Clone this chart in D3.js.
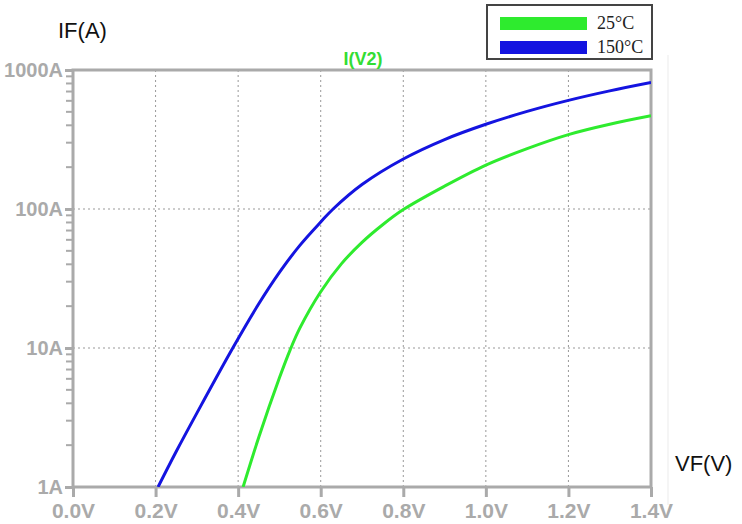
<!DOCTYPE html>
<html><head><meta charset="utf-8">
<script src="https://cdn.jsdelivr.net/npm/d3@7"></script>
<style>body{margin:0;background:#fff}svg{display:block}</style>
</head><body>
<svg id="c" width="742" height="524"></svg>
<script>
// Data (VF in volts, IF in amps)
const xTicks = [0, 0.2, 0.4, 0.6, 0.8, 1.0, 1.2, 1.4];
const xTickLabels = ["0.0V","0.2V","0.4V","0.6V","0.8V","1.0V","1.2V","1.4V"];
const yTicks = [1, 10, 100, 1000];
const yTickLabels = ["1A","10A","100A","1000A"];
const seriesNames = ["25°C", "150°C"];
const v25 =  [0.412, 0.45, 0.5, 0.526, 0.55, 0.6, 0.65, 0.7, 0.75, 0.8, 0.9, 1.0, 1.1, 1.2, 1.3, 1.4];
const i25 =  [1, 2.28, 6.1, 9.7, 14.0, 25.4, 40.3, 57.5, 77, 99, 146, 207, 272, 343, 407, 468];
const v150 = [0.206, 0.25, 0.3, 0.387, 0.45, 0.5, 0.55, 0.6, 0.63, 0.7, 0.8, 0.9, 1.0, 1.1, 1.2, 1.3, 1.4];
const i150 = [1, 1.8, 3.4, 10, 20.8, 35, 55, 80.6, 100, 150, 229, 316, 407, 504, 605, 708, 813];

const svg = d3.select("#c");
const L = 73, R = 651, T = 70, B = 487;
const x = d3.scaleLinear().domain([0, 1.4]).range([L, R]);
const y = d3.scaleLog().domain([1, 1000]).range([B, T]);
const axisCol = "#aaaaaa";

// faint artifact line
svg.append("line").attr("x1",668).attr("x2",668).attr("y1",55).attr("y2",505)
  .attr("stroke","#f2f2f2").attr("stroke-width",1.5);

// grid
const g = svg.append("g");
g.selectAll(".vg").data(xTicks.slice(1, -1)).join("line")
  .attr("x1", d => x(d)).attr("x2", d => x(d)).attr("y1", T).attr("y2", B)
  .attr("stroke", "#999").attr("stroke-width", 1).attr("stroke-dasharray", "2,3");
g.selectAll(".hg").data(yTicks.slice(1, -1)).join("line")
  .attr("x1", L).attr("x2", R).attr("y1", d => y(d)).attr("y2", d => y(d))
  .attr("stroke", "#999").attr("stroke-width", 1).attr("stroke-dasharray", "2,3");

// frame
svg.append("rect").attr("x", L).attr("y", T).attr("width", R - L).attr("height", B - T)
  .attr("fill", "none").attr("stroke", axisCol).attr("stroke-width", 3);

// bottom axis
const xa = svg.append("g").attr("transform", `translate(0,${B})`)
  .call(d3.axisBottom(x).tickValues(xTicks).tickSize(10).tickPadding(6)
    .tickFormat((d, i) => xTickLabels[i]));
xa.select(".domain").remove();
xa.selectAll(".tick line").attr("stroke", axisCol).attr("stroke-width", 3);
xa.selectAll(".tick text").attr("fill", axisCol)
  .style("font-family", "'Liberation Sans', Arial, sans-serif").style("font-weight", "bold")
  .style("font-size", "21px").attr("dy", "0.72em");

// left axis major
const ya = svg.append("g").attr("transform", `translate(${L},0)`)
  .call(d3.axisLeft(y).tickValues(yTicks).tickSize(8).tickPadding(2)
    .tickFormat((d, i) => yTickLabels[i]));
ya.select(".domain").remove();
ya.selectAll(".tick line").attr("stroke", axisCol).attr("stroke-width", 3);
ya.selectAll(".tick text").attr("fill", axisCol)
  .style("font-family", "'Liberation Sans', Arial, sans-serif").style("font-weight", "bold")
  .style("font-size", "20px");

// left axis minor ticks
const minor = [];
[1, 10, 100].forEach(dec => { for (let k = 2; k <= 9; k++) minor.push(dec * k); });
svg.append("g").selectAll("line").data(minor).join("line")
  .attr("x1", L - 7).attr("x2", L).attr("y1", d => y(d)).attr("y2", d => y(d))
  .attr("stroke", axisCol).attr("stroke-width", 2);

// curves
svg.append("clipPath").attr("id", "clip").append("rect")
  .attr("x", L).attr("y", T).attr("width", R - L).attr("height", B - T);
const line = d3.line().x(d => x(d[0])).y(d => y(d[1])).curve(d3.curveCatmullRom.alpha(0.5));
const cg = svg.append("g").attr("clip-path", "url(#clip)");
cg.append("path").datum(v25.map((v, i) => [v, i25[i]])).attr("d", line)
  .attr("fill", "none").attr("stroke", "#2eeb2e").attr("stroke-width", 3);
cg.append("path").datum(v150.map((v, i) => [v, i150[i]])).attr("d", line)
  .attr("fill", "none").attr("stroke", "#1414e0").attr("stroke-width", 3);

// texts
svg.append("text").attr("x", 58).attr("y", 38).text("IF(A)")
  .style("font-family", "'Liberation Sans', Arial, sans-serif").style("font-size", "22px").attr("fill", "#111");
svg.append("text").attr("x", 675).attr("y", 471).text("VF(V)")
  .style("font-family", "'Liberation Sans', Arial, sans-serif").style("font-size", "22px").attr("fill", "#111");
svg.append("text").attr("x", 363).attr("y", 65).attr("text-anchor", "middle").text("I(V2)")
  .style("font-family", "'Liberation Sans', Arial, sans-serif").style("font-weight", "bold")
  .style("font-size", "18px").attr("fill", "#33dd33");

// legend
const lg = svg.append("g");
lg.append("rect").attr("x", 487).attr("y", 5).attr("width", 165).attr("height", 54)
  .attr("fill", "#fff").attr("stroke", "#444").attr("stroke-width", 2);
const colors = ["#2eeb2e", "#1414e0"];
seriesNames.forEach((n, i) => {
  lg.append("rect").attr("x", 500).attr("y", 17 + i * 24).attr("width", 87).attr("height", 13)
    .attr("fill", colors[i]);
  lg.append("text").attr("x", 597).attr("y", 29 + i * 24).text(n)
    .style("font-family", "'Liberation Serif', 'Times New Roman', serif").style("font-size", "18px")
    .attr("fill", "#222");
});
</script>
</body></html>
